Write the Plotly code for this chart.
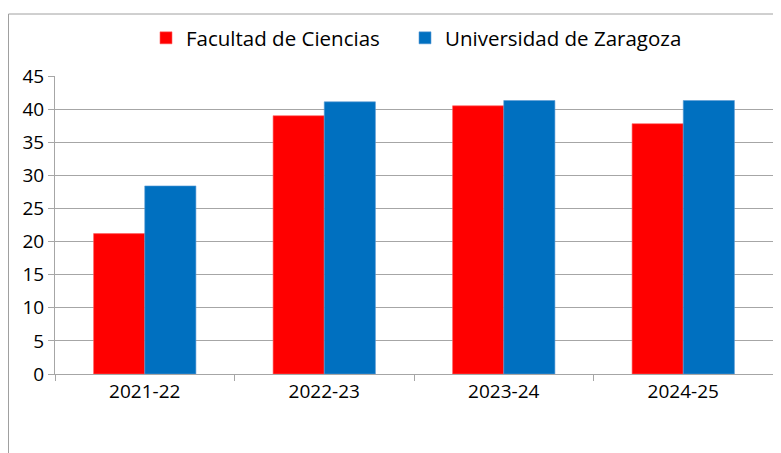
import plotly.graph_objects as go

cursos = ['2021-22', '2022-23', '2023-24', '2024-25']
facultad = [21.2, 39.0, 40.5, 37.8]
universidad = [28.4, 41.1, 41.3, 41.3]

# la página deja 8 px de margen en el body
W, H = 773, 445
L, R, T, B = 47, 8, 68, 79
pw, ph = W - L - R, H - T - B

def px(x):
    return (x - L) / pw

def py(y):
    return (H - B - y) / ph

fuente = 'Open Sans'

fig = go.Figure()

fig.add_trace(go.Bar(
    x=cursos, y=facultad, name='Facultad de Ciencias', legend='legend',
    showlegend=True,
    marker=dict(color='#FF0000', line=dict(color='#FF6060', width=0.6)),
))
fig.add_trace(go.Bar(
    x=cursos, y=universidad, name='Universidad de Zaragoza', legend='legend2',
    showlegend=True,
    marker=dict(color='#0070C0', line=dict(color='#5B9BD5', width=0.6)),
))

leyenda = dict(orientation='h', xanchor='left', y=py(30), yanchor='middle',
               font=dict(family=fuente, size=20.5), itemwidth=30)

fig.update_layout(
    width=W, height=H,
    margin=dict(l=L, r=R, t=T, b=B, autoexpand=False),
    plot_bgcolor='white', paper_bgcolor='white',
    font=dict(family=fuente, size=19, color='#000000'),
    barmode='group', bargap=0.43, bargroupgap=0,
    showlegend=True,
    legend=dict(leyenda, x=px(138)),
    legend2=dict(leyenda, x=px(397)),
    shapes=[
        dict(type='line', xref='paper', yref='paper',
             x0=px(0.5), x1=px(0.5), y0=py(6), y1=py(460),
             line=dict(color='#A0A0A0', width=1)),
        dict(type='line', xref='paper', yref='paper',
             x0=px(0.5), x1=px(790), y0=py(6), y1=py(6),
             line=dict(color='#A0A0A0', width=1)),
    ],
)

fig.update_yaxes(
    range=[0, 45], dtick=5, showgrid=True, gridcolor='#A6A6A6', gridwidth=1,
    showline=True, linecolor='#A6A6A6', linewidth=1,
    ticks='outside', ticklen=6, tickcolor='#A6A6A6',
    zeroline=False, tickfont=dict(size=19),
)
fig.update_xaxes(
    showline=True, linecolor='#A6A6A6', linewidth=1,
    ticks='outside', ticklen=6, tickcolor='#A6A6A6', tickson='boundaries',
    showgrid=False, tickfont=dict(size=19),
)

fig.write_html('out.html')
